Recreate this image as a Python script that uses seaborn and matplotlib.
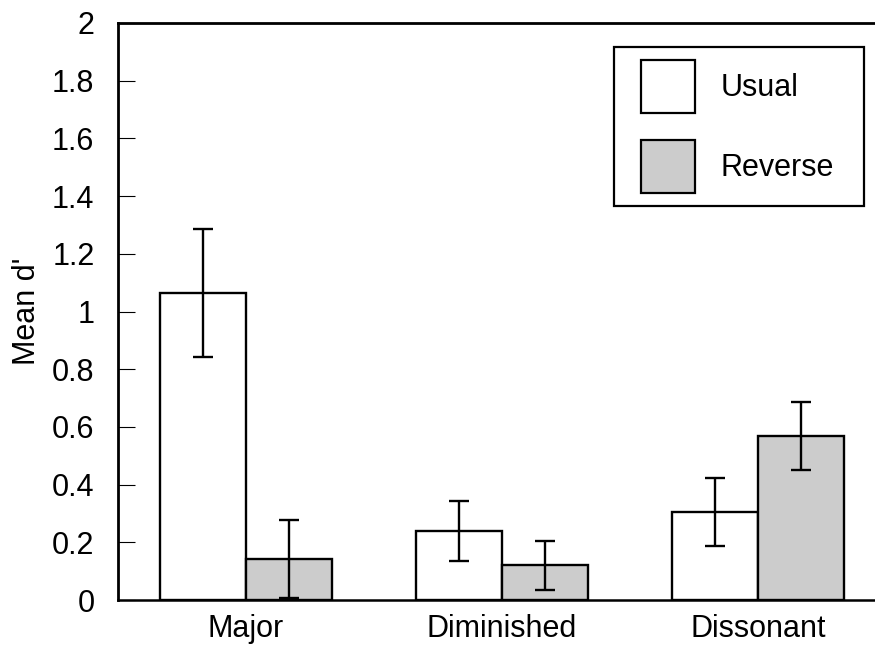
import matplotlib
matplotlib.use("Agg")
import matplotlib.pyplot as plt
from matplotlib.patches import Patch, Rectangle
from matplotlib.transforms import IdentityTransform
import seaborn as sns
import pandas as pd

categories = ["Major", "Diminished", "Dissonant"]
conditions = ["Usual", "Reverse"]
usual_means = [1.065, 0.24, 0.305]
reverse_means = [0.141, 0.121, 0.57]
usual_err = [0.221, 0.104, 0.117]
reverse_err = [0.135, 0.085, 0.118]
yticks = [0, 0.2, 0.4, 0.6, 0.8, 1, 1.2, 1.4, 1.6, 1.8, 2]
ytick_labels = ["0", "0.2", "0.4", "0.6", "0.8", "1", "1.2", "1.4", "1.6", "1.8", "2"]

df = pd.DataFrame({
    "Chord": categories * 2,
    "Condition": ["Usual"] * 3 + ["Reverse"] * 3,
    "Mean": usual_means + reverse_means,
})

sns.set_theme(style="white")
plt.rcParams["font.family"] = ["Liberation Sans", "DejaVu Sans"]
for k in ["text.color", "axes.labelcolor", "xtick.color", "ytick.color"]:
    plt.rcParams[k] = "black"

FS = 22
fig = plt.figure(figsize=(8.75, 6.47), dpi=100)
ax = fig.add_axes([118 / 875, 1 - 600 / 647, (886 - 118) / 875, (600 - 23) / 647])

palette = {"Usual": "white", "Reverse": "#cccccc"}
sns.barplot(data=df, x="Chord", y="Mean", hue="Condition", order=categories,
            hue_order=conditions, palette=palette, width=0.668, errorbar=None,
            edgecolor="black", linewidth=1.7, saturation=1, legend=False, ax=ax)

for container, errs in zip(ax.containers, [usual_err, reverse_err]):
    xs = [b.get_x() + b.get_width() / 2 for b in container]
    ys = [b.get_height() for b in container]
    ax.errorbar(xs, ys, yerr=errs, fmt="none", ecolor="black", elinewidth=1.7,
                capsize=7.5, capthick=1.7, zorder=5)

ax.set_xlim(-0.5, 2.5)
ax.set_ylim(0, 2)
ax.set_yticks(yticks)
ax.set_yticklabels(ytick_labels)
ax.set_xlabel("")
ax.set_ylabel("Mean d'", fontsize=FS, labelpad=7)
ax.tick_params(axis="y", direction="in", length=12, width=0.8, labelsize=FS, pad=17, left=True)
ax.tick_params(axis="x", length=0, labelsize=FS, pad=10)
for s in ["left", "top", "bottom", "right"]:
    ax.spines[s].set_linewidth(2.0)
    ax.spines[s].set_color("black")
ax.spines["bottom"].set_linewidth(1.8)

handles = [Patch(facecolor="white", edgecolor="black", linewidth=1.6, label="Usual"),
           Patch(facecolor="#cccccc", edgecolor="black", linewidth=1.6, label="Reverse")]
leg = ax.legend(handles=handles, loc="upper left", bbox_to_anchor=(628 / 875, 1 - 47 / 647),
                bbox_transform=fig.transFigure, fontsize=FS, frameon=False,
                handlelength=1.76, handleheight=2.29, handletextpad=0.85, labelspacing=0.88,
                borderpad=0.43, borderaxespad=0)
leg.set_zorder(10)

# frame around the legend, wider horizontally than the legend's own padding
fig.canvas.draw()
bb = leg.get_window_extent()
pad_l, pad_r = 14, 17
frame = Rectangle((bb.x0 - pad_l, bb.y0), bb.width + pad_l + pad_r, bb.height,
                  facecolor="white", edgecolor="black", linewidth=1.6, zorder=8,
                  clip_on=False)
frame.set_transform(IdentityTransform())
ax.add_artist(frame)

fig.savefig("out.png", dpi=100)
